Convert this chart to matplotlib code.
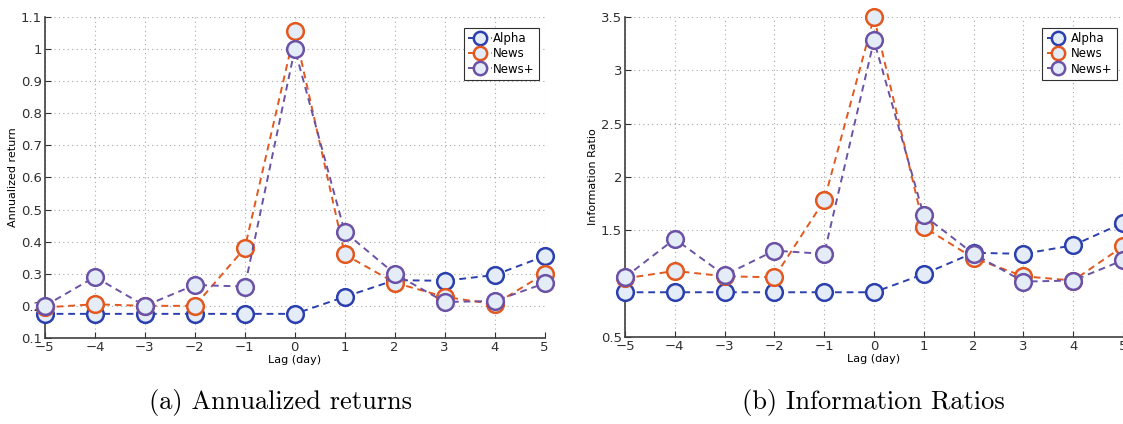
import matplotlib.pyplot as plt

lags = [-5, -4, -3, -2, -1, 0, 1, 2, 3, 4, 5]

# (a) annualized returns
ret_alpha = [0.175, 0.175, 0.175, 0.175, 0.175, 0.175, 0.228, 0.28, 0.278, 0.296, 0.355]
ret_news = [0.195, 0.205, 0.2, 0.2, 0.38, 1.055, 0.36, 0.272, 0.228, 0.205, 0.3]
ret_newsp = [0.2, 0.29, 0.2, 0.265, 0.26, 1.0, 0.43, 0.3, 0.212, 0.215, 0.27]

# (b) information ratios
ir_alpha = [0.92, 0.92, 0.92, 0.92, 0.92, 0.92, 1.09, 1.29, 1.28, 1.36, 1.57]
ir_news = [1.05, 1.12, 1.07, 1.06, 1.78, 3.5, 1.53, 1.24, 1.07, 1.03, 1.35]
ir_newsp = [1.06, 1.42, 1.08, 1.31, 1.28, 3.28, 1.64, 1.28, 1.02, 1.03, 1.22]

ret_ticks = [0.1, 0.2, 0.3, 0.4, 0.5, 0.6, 0.7, 0.8, 0.9, 1, 1.1]
ir_ticks = [0.5, 1.5, 2, 2.5, 3, 3.5]

names = ["Alpha", "News", "News+"]
colors = ["#2b3fae", "#e2581e", "#6b52a6"]


def draw(ax, series, ylim, yticks, ylabel):
    for vals, name, col in zip(series, names, colors):
        ax.plot(lags, vals, "o", ls=(0, (3.5, 2.5)), color=col, lw=1.4, ms=12, mew=1.8,
                mfc="#e3ecf7", mec=col, label=name, clip_on=False, zorder=3)
    ax.set_xlim(-5, 5)
    ax.set_ylim(*ylim)
    ax.set_xticks(lags)
    ax.set_xticklabels([str(v).replace("-", "\u2212") for v in lags])
    ax.set_yticks(yticks)
    ax.set_yticklabels([f"{v:g}" for v in yticks])
    ax.grid(True, ls=(0, (1, 3)), color="#a8a8a8", lw=0.8)
    for s in ["top", "right"]:
        ax.spines[s].set_visible(False)
    for s in ["left", "bottom"]:
        ax.spines[s].set_color("#404040")
        ax.spines[s].set_linewidth(1.2)
    ax.tick_params(direction="in", length=4, labelsize=9.5, colors="#303030", pad=2)
    ax.set_xlabel("Lag (day)", fontsize=8, labelpad=1)
    ax.set_ylabel(ylabel, fontsize=8, labelpad=2)
    leg = ax.legend(loc="upper right", fontsize=8.5, markerscale=0.8, handlelength=2.0,
                    borderpad=0.35, labelspacing=0.2, handletextpad=0.1,
                    fancybox=False, framealpha=1, edgecolor="#303030",
                    bbox_to_anchor=(1.0, 0.985))
    leg.get_frame().set_linewidth(0.8)


fig = plt.figure(figsize=(11.23, 4.24), dpi=100)
ax1 = fig.add_axes([0.040, 0.203, 0.445, 0.757])
ax2 = fig.add_axes([0.5565, 0.205, 0.4435, 0.755])

draw(ax1, [ret_alpha, ret_news, ret_newsp], (0.1, 1.1), ret_ticks, "Annualized return")
draw(ax2, [ir_alpha, ir_news, ir_newsp], (0.5, 3.5), ir_ticks, "Information Ratio")

fig.text(0.250, 0.05, "(a) Annualized returns", ha="center", va="center",
         fontsize=19, family="cmr10")
fig.text(0.778, 0.05, "(b) Information Ratios", ha="center", va="center",
         fontsize=19, family="cmr10")

fig.savefig("out.png", dpi=100)
